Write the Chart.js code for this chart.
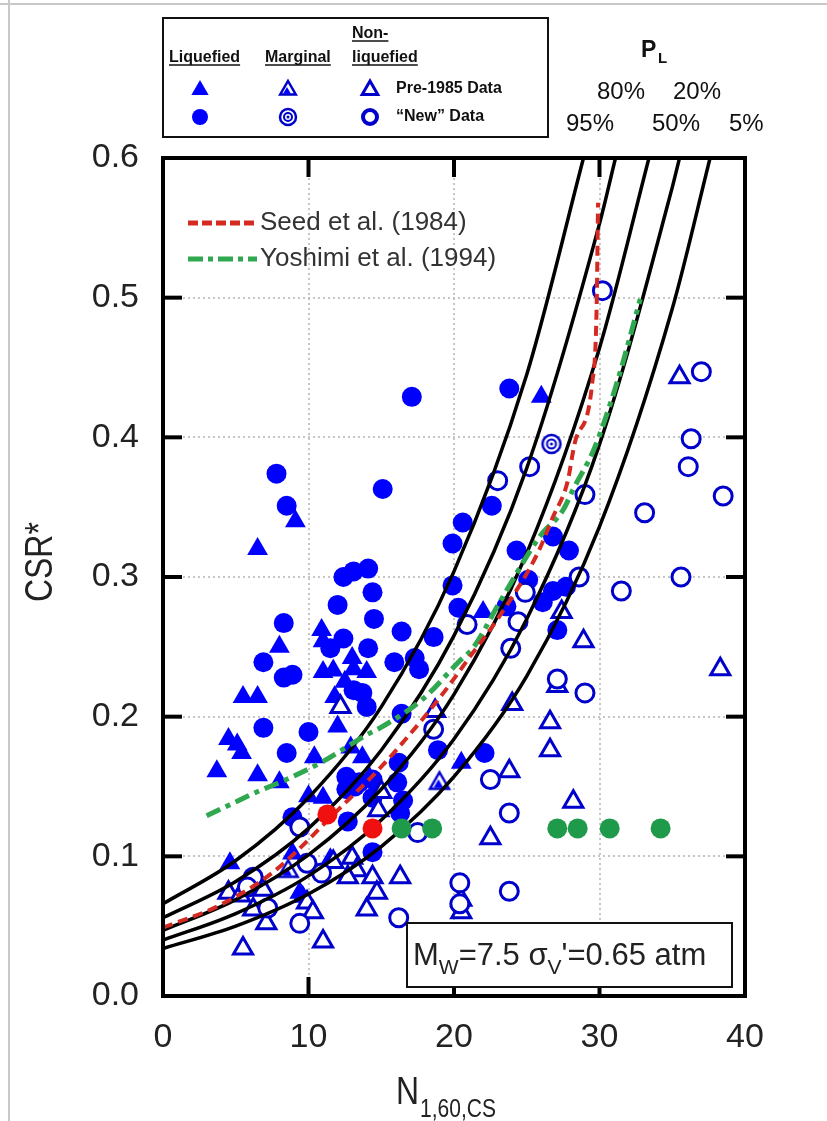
<!DOCTYPE html>
<html>
<head>
<meta charset="utf-8">
<script src="https://cdn.jsdelivr.net/npm/chart.js@4.4.1/dist/chart.umd.min.js"></script>
<style>
  html, body { margin: 0; padding: 0; background: #fff; }
  canvas { display: block; }
</style>
</head>
<body>
<canvas id="grafica" width="827" height="1121" style="width:827px;height:1121px"></canvas>
<script>
// ---- datos (N1,60,CS vs CSR*) ----
const liqNewN = [17.1, 23.8, 7.8, 15.1, 8.5, 20.6, 19.9, 12.4, 13.1, 14.1, 14.4, 12.0, 14.5, 8.3, 19.9, 20.3, 16.4, 18.6, 12.4, 11.5, 14.1, 6.9, 15.9, 17.3, 17.6, 8.3, 8.9, 13.1, 13.7, 14.0, 16.4, 6.9, 10.0, 22.6, 24.3, 26.8, 27.9, 25.1, 26.8, 27.7, 26.1, 23.6, 27.1, 8.5, 12.6, 12.6, 13.5, 14.4, 16.2, 16.1, 16.5, 18.9, 12.7, 14.4, 8.9, 22.1, 16.3, 14.4, 13.2];
const liqNewCSR = [0.429, 0.435, 0.374, 0.363, 0.351, 0.339, 0.324, 0.300, 0.304, 0.306, 0.289, 0.280, 0.270, 0.267, 0.294, 0.278, 0.261, 0.257, 0.256, 0.249, 0.249, 0.239, 0.239, 0.242, 0.234, 0.228, 0.230, 0.219, 0.217, 0.207, 0.202, 0.192, 0.189, 0.351, 0.319, 0.329, 0.319, 0.298, 0.290, 0.293, 0.282, 0.279, 0.262, 0.174, 0.157, 0.148, 0.153, 0.155, 0.167, 0.153, 0.140, 0.176, 0.125, 0.103, 0.128, 0.174, 0.131, 0.142, 0.150];

const liqPreN = [26.0, 9.1, 6.5, 10.9, 8.0, 11.0, 11.0, 11.7, 13.0, 13.1, 14.0, 12.5, 5.5, 6.5, 4.5, 5.1, 5.4, 3.7, 6.5, 8.0, 10.4, 11.8, 12.0, 10.0, 11.0, 20.5, 12.9, 13.7, 14.2, 22.0, 4.6, 8.9, 9.4, 9.6, 11.5];
const liqPreCSR = [0.429, 0.340, 0.320, 0.262, 0.250, 0.254, 0.232, 0.233, 0.242, 0.234, 0.232, 0.225, 0.214, 0.214, 0.184, 0.180, 0.174, 0.161, 0.158, 0.153, 0.171, 0.214, 0.193, 0.143, 0.142, 0.167, 0.178, 0.171, 0.156, 0.275, 0.095, 0.102, 0.074, 0.071, 0.098];

const nonPreN = [35.5, 12.2, 18.7, 27.4, 28.9, 27.1, 24.0, 26.6, 38.3, 23.8, 28.2, 22.5, 15.0, 14.8, 11.7, 13.0, 13.3, 14.4, 14.7, 14.0, 16.3, 4.5, 5.3, 6.9, 6.2, 7.1, 5.5, 9.9, 10.3, 11.0, 12.7, 20.5, 20.5, 26.6];
const nonPreCSR = [0.443, 0.207, 0.204, 0.275, 0.254, 0.222, 0.209, 0.196, 0.234, 0.161, 0.139, 0.113, 0.146, 0.133, 0.096, 0.099, 0.090, 0.085, 0.074, 0.062, 0.085, 0.074, 0.072, 0.076, 0.062, 0.052, 0.034, 0.067, 0.060, 0.039, 0.085, 0.069, 0.060, 0.176];

const nonNewN = [30.2, 37.0, 36.3, 36.1, 25.2, 38.5, 23.0, 29.0, 33.1, 24.9, 28.6, 31.5, 35.6, 20.9, 24.4, 23.9, 27.1, 29.0, 18.6, 22.5, 23.8, 17.5, 23.8, 9.4, 9.9, 10.9, 16.2, 6.2, 5.8, 7.2, 9.4, 20.4, 20.4];
const nonNewCSR = [0.505, 0.447, 0.399, 0.379, 0.379, 0.358, 0.369, 0.359, 0.346, 0.289, 0.300, 0.290, 0.300, 0.266, 0.268, 0.249, 0.227, 0.217, 0.191, 0.155, 0.131, 0.117, 0.075, 0.121, 0.095, 0.088, 0.056, 0.085, 0.078, 0.063, 0.052, 0.081, 0.066];

const margPreN = [19.0, 8.6];
const margPreCSR = [0.153, 0.090];
const margNewN = [26.7];
const margNewCSR = [0.396];

const redN = [11.3, 14.4];
const redCSR = [0.130, 0.120];
const greenN = [16.4, 18.5, 27.1, 28.5, 30.7, 34.2];
const greenCSR = [0.120, 0.120, 0.120, 0.120, 0.120, 0.120];

// curvas P_L
const pl95N = [0, 5, 10, 15, 20, 25, 28.9];
const pl95CSR = [0.066, 0.097, 0.142, 0.207, 0.304, 0.445, 0.600];
const pl80N = [0, 5, 10, 15, 20, 25, 30, 31.1];
const pl80CSR = [0.056, 0.082, 0.120, 0.176, 0.258, 0.378, 0.553, 0.600];
const pl50N = [0, 5, 10, 15, 20, 25, 30, 33.4];
const pl50CSR = [0.047, 0.069, 0.101, 0.148, 0.216, 0.317, 0.464, 0.600];
const pl20N = [0, 5, 10, 15, 20, 25, 30, 35, 35.5];
const pl20CSR = [0.040, 0.059, 0.086, 0.126, 0.184, 0.270, 0.395, 0.579, 0.600];
const pl5N = [0, 5, 10, 15, 20, 25, 30, 35, 37.6];
const pl5CSR = [0.034, 0.050, 0.073, 0.107, 0.157, 0.229, 0.336, 0.492, 0.600];

const seedN = [0, 3.9, 7.6, 12.3, 14.9, 17.1, 19.2, 21.1, 23.0, 25.7, 26.8, 27.8, 28.3, 29.5, 29.8, 29.9];
const seedCSR = [0.049, 0.065, 0.089, 0.136, 0.163, 0.189, 0.216, 0.243, 0.270, 0.316, 0.343, 0.368, 0.396, 0.439, 0.492, 0.568];
const yoshN = [3.0, 4.6, 6.2, 8.7, 11.0, 14.0, 15.1, 17.9, 20.4, 21.3, 23.2, 25.9, 27.5, 28.2, 29.6, 31.2, 32.1, 32.8];
const yoshCSR = [0.129, 0.137, 0.145, 0.156, 0.168, 0.187, 0.193, 0.213, 0.240, 0.249, 0.283, 0.329, 0.348, 0.363, 0.391, 0.439, 0.472, 0.499];

const xTicks = [0, 10, 20, 30, 40];
const yTicks = [0.0, 0.1, 0.2, 0.3, 0.4, 0.5, 0.6];

// ---- estilos ----
const AZUL = '#0000ff';
const AZUL_OSC = '#0000cc';
const FONT = '"Liberation Sans", Arial, sans-serif';

function puntos(xs, ys) {
    let res = [];
    for (let i = 0; i < Math.min(xs.length, ys.length); i++) res.push({ x: xs[i], y: ys[i] });
    return res;
}

function triangulo(g, x, y, r) {
    g.beginPath();
    g.moveTo(x, y - r);
    g.lineTo(x + r * 0.866, y + r * 0.5);
    g.lineTo(x - r * 0.866, y + r * 0.5);
    g.closePath();
}

function marcaMarginalTri(g, x, y, r) {
    triangulo(g, x, y, r);
    g.fillStyle = '#fff'; g.fill();
    g.lineWidth = 2.5; g.strokeStyle = AZUL_OSC; g.stroke();
    triangulo(g, x - 1, y + 1.5, r * 0.5);
    g.fillStyle = AZUL; g.fill();
}

function marcaMarginalCirc(g, x, y, r) {
    g.beginPath(); g.arc(x, y, r, 0, Math.PI * 2);
    g.fillStyle = '#fff'; g.fill();
    g.lineWidth = 2.5; g.strokeStyle = AZUL_OSC; g.stroke();
    g.beginPath(); g.arc(x, y, r * 0.5, 0, Math.PI * 2);
    g.lineWidth = 2; g.stroke();
    g.beginPath(); g.arc(x, y, 1.5, 0, Math.PI * 2);
    g.fillStyle = AZUL_OSC; g.fill();
}

function hacerMarca(fn, r) {
    let c = document.createElement('canvas');
    c.width = 28; c.height = 28;
    fn(c.getContext('2d'), 14, 15, r);
    return c;
}

const imgMargTri = hacerMarca(marcaMarginalTri, 11);
const imgMargCirc = hacerMarca(marcaMarginalCirc, 9);

function curva(xs, ys) {
    return {
        data: puntos(xs, ys), showLine: true, pointRadius: 0, borderColor: '#000',
        borderWidth: 3.5, cubicInterpolationMode: 'monotone', order: 2
    };
}

// texto algo estrecho (no hay fuente "narrow" instalada)
function textoEstrecho(g, txt, x, y, esc) {
    g.save();
    g.translate(x, y);
    g.scale(esc, 1);
    g.fillText(txt, 0, 0);
    g.restore();
    return g.measureText(txt).width * esc;
}

// ---- decoracion: marco, rejilla, titulos, leyendas ----
const decoracion = {
    id: 'decoracion',
    beforeDraw(chart) {
        const g = chart.ctx;
        g.save();
        g.fillStyle = '#fff';
        g.fillRect(0, 0, chart.width, chart.height);
        g.strokeStyle = '#c8c8c8'; g.lineWidth = 2;
        g.beginPath(); g.moveTo(0, 4); g.lineTo(chart.width, 4); g.stroke();
        g.beginPath(); g.moveTo(9, 0); g.lineTo(9, chart.height); g.stroke();
        g.restore();
    },
    beforeDatasetsDraw(chart) {
        const g = chart.ctx, a = chart.chartArea;
        const sx = chart.scales.x, sy = chart.scales.y;
        g.save();
        g.strokeStyle = '#b4b4b4'; g.lineWidth = 1.5; g.setLineDash([2, 3]);
        xTicks.slice(1, -1).forEach(v => {
            let px = Math.round(sx.getPixelForValue(v));
            g.beginPath(); g.moveTo(px, a.top); g.lineTo(px, a.bottom); g.stroke();
        });
        yTicks.slice(1, -1).forEach(v => {
            let py = Math.round(sy.getPixelForValue(v));
            g.beginPath(); g.moveTo(a.left, py); g.lineTo(a.right, py); g.stroke();
        });
        g.restore();
    },
    afterDraw(chart) {
        const g = chart.ctx, a = chart.chartArea;
        const sx = chart.scales.x, sy = chart.scales.y;
        g.save();

        // marco y marcas interiores
        g.strokeStyle = '#000'; g.lineWidth = 4;
        g.strokeRect(a.left, a.top, a.right - a.left, a.bottom - a.top);
        const largo = 19;
        xTicks.slice(1, -1).forEach(v => {
            let px = sx.getPixelForValue(v);
            g.beginPath(); g.moveTo(px, a.bottom); g.lineTo(px, a.bottom - largo); g.stroke();
            g.beginPath(); g.moveTo(px, a.top); g.lineTo(px, a.top + largo); g.stroke();
        });
        yTicks.slice(1, -1).forEach(v => {
            let py = sy.getPixelForValue(v);
            g.beginPath(); g.moveTo(a.left, py); g.lineTo(a.left + largo, py); g.stroke();
            g.beginPath(); g.moveTo(a.right, py); g.lineTo(a.right - largo, py); g.stroke();
        });

        // titulos de ejes
        g.fillStyle = '#222';
        g.save();
        g.translate(52, 602);
        g.rotate(-Math.PI / 2);
        g.font = '38px ' + FONT;
        g.textAlign = 'left'; g.textBaseline = 'alphabetic';
        textoEstrecho(g, 'CSR*', 0, 0, 0.84);
        g.restore();

        g.textAlign = 'left'; g.textBaseline = 'alphabetic';
        g.font = '38px ' + FONT;
        let wN = textoEstrecho(g, 'N', 396, 1104, 0.84);
        g.font = '25px ' + FONT;
        textoEstrecho(g, '1,60,CS', 396 + wN + 1, 1117, 0.84);

        // leyenda de lineas dentro del grafico
        g.lineWidth = 5; g.lineCap = 'butt';
        g.strokeStyle = '#d42a22'; g.setLineDash([10, 4]);
        g.beginPath(); g.moveTo(188, 223); g.lineTo(257, 223); g.stroke();
        g.strokeStyle = '#2fa84f'; g.setLineDash([15, 5, 5, 5]);
        g.beginPath(); g.moveTo(188, 259); g.lineTo(257, 259); g.stroke();
        g.setLineDash([]);
        g.font = '26px ' + FONT; g.fillStyle = '#333'; g.textBaseline = 'middle';
        g.fillText('Seed et al. (1984)', 260, 223);
        g.fillText('Yoshimi et al. (1994)', 260, 259);

        // caja Mw
        g.fillStyle = '#fff';
        g.fillRect(407, 923, 325, 64);
        g.strokeStyle = '#111'; g.lineWidth = 2;
        g.strokeRect(407, 923, 325, 64);
        g.fillStyle = '#222'; g.textBaseline = 'alphabetic';
        let px = 413;
        const partes = [['M', 31, 0], ['W', 21, 9], ['=7.5 \u03c3', 31, 0], ['V', 21, 9], ["'=0.65 atm", 31, 0]];
        partes.forEach(p => {
            g.font = p[1] + 'px ' + FONT;
            g.fillText(p[0], px, 965 + p[2]);
            px += g.measureText(p[0]).width;
        });

        // caja de simbolos arriba
        g.strokeStyle = '#111'; g.lineWidth = 2;
        g.strokeRect(163, 18, 385, 119);
        g.fillStyle = '#111';
        g.font = 'bold 16px ' + FONT;
        const cabeceras = [['Liquefied', 169, 62], ['Marginal', 265, 62], ['Non-', 352, 38], ['liquefied', 352, 62]];
        g.lineWidth = 1.5;
        cabeceras.forEach(c => {
            g.fillText(c[0], c[1], c[2]);
            let w = g.measureText(c[0]).width;
            g.beginPath(); g.moveTo(c[1], c[2] + 3); g.lineTo(c[1] + w, c[2] + 3); g.strokeStyle = '#111'; g.stroke();
        });
        // fila pre-1985
        triangulo(g, 200, 90, 10); g.fillStyle = AZUL; g.fill();
        marcaMarginalTri(g, 288, 90, 9);
        triangulo(g, 370, 90, 9); g.fillStyle = '#fff'; g.fill();
        g.lineWidth = 3; g.strokeStyle = AZUL_OSC; g.stroke();
        // fila new
        g.beginPath(); g.arc(200, 117, 8, 0, Math.PI * 2); g.fillStyle = AZUL; g.fill();
        marcaMarginalCirc(g, 288, 117, 8);
        g.beginPath(); g.arc(370, 117, 7, 0, Math.PI * 2); g.lineWidth = 4; g.strokeStyle = AZUL_OSC; g.stroke();
        g.fillStyle = '#111'; g.font = 'bold 16px ' + FONT; g.textBaseline = 'middle';
        g.fillText('Pre-1985 Data', 396, 89);
        g.fillText('\u201cNew\u201d Data', 396, 117);

        // etiquetas P_L
        g.textBaseline = 'alphabetic';
        g.font = 'bold 23px ' + FONT;
        g.fillText('P', 641, 57);
        g.font = 'bold 15px ' + FONT;
        g.fillText('L', 658, 63);
        g.font = '24px ' + FONT;
        g.fillText('80%', 597, 99);
        g.fillText('20%', 673, 99);
        g.fillText('95%', 566, 131);
        g.fillText('50%', 652, 131);
        g.fillText('5%', 729, 131);

        g.restore();
    }
};

let miCanvas = document.getElementById('grafica').getContext('2d');

let chartConfig = {
    type: 'scatter',
    data: {
        datasets: [
            { data: puntos(redN, redCSR), pointRadius: 10, backgroundColor: '#f01010', borderWidth: 0, order: 0 },
            { data: puntos(greenN, greenCSR), pointRadius: 10, backgroundColor: '#1f9a4a', borderWidth: 0, order: 0 },
            { data: puntos(seedN, seedCSR), showLine: true, pointRadius: 0, borderColor: '#d42a22', borderWidth: 4,
              borderDash: [10, 6], cubicInterpolationMode: 'monotone', order: 1 },
            { data: puntos(yoshN, yoshCSR), showLine: true, pointRadius: 0, borderColor: '#2fa84f', borderWidth: 5,
              borderDash: [15, 6, 5, 6], cubicInterpolationMode: 'monotone', order: 1 },
            curva(pl95N, pl95CSR),
            curva(pl80N, pl80CSR),
            curva(pl50N, pl50CSR),
            curva(pl20N, pl20CSR),
            curva(pl5N, pl5CSR),
            { data: puntos(margNewN, margNewCSR), pointStyle: imgMargCirc, order: 3 },
            { data: puntos(margPreN, margPreCSR), pointStyle: imgMargTri, order: 3 },
            { data: puntos(nonNewN, nonNewCSR), pointRadius: 9, backgroundColor: '#fff', borderColor: AZUL_OSC, borderWidth: 3, order: 3 },
            { data: puntos(nonPreN, nonPreCSR), pointStyle: 'triangle', pointRadius: 11, backgroundColor: '#fff', borderColor: AZUL_OSC, borderWidth: 3, order: 3 },
            { data: puntos(liqNewN, liqNewCSR), pointRadius: 10, backgroundColor: AZUL, borderColor: AZUL, borderWidth: 0, order: 4 },
            { data: puntos(liqPreN, liqPreCSR), pointStyle: 'triangle', pointRadius: 12, backgroundColor: AZUL, borderColor: AZUL, borderWidth: 0, order: 4 }
        ]
    },
    options: {
        responsive: false,
        animation: false,
        layout: { padding: { top: 158, right: 82, left: 0, bottom: 0 } },
        plugins: { legend: { display: false }, tooltip: { enabled: false } },
        scales: {
            x: {
                type: 'linear', min: 0, max: 40,
                afterBuildTicks: s => { s.ticks = xTicks.map(v => ({ value: v })); },
                ticks: { font: { family: FONT, size: 34 }, color: '#222', padding: 13, maxRotation: 0 },
                grid: { display: false }, border: { display: false },
                afterFit: s => { s.height = 125; }
            },
            y: {
                type: 'linear', min: 0, max: 0.6,
                afterBuildTicks: s => { s.ticks = yTicks.map(v => ({ value: v })); },
                ticks: { font: { family: FONT, size: 34 }, color: '#222', padding: 16, callback: v => v.toFixed(1) },
                grid: { display: false }, border: { display: false },
                afterFit: s => { s.width = 163; }
            }
        }
    },
    plugins: [decoracion]
};

let chart = new Chart(miCanvas, chartConfig);
</script>
</body>
</html>
